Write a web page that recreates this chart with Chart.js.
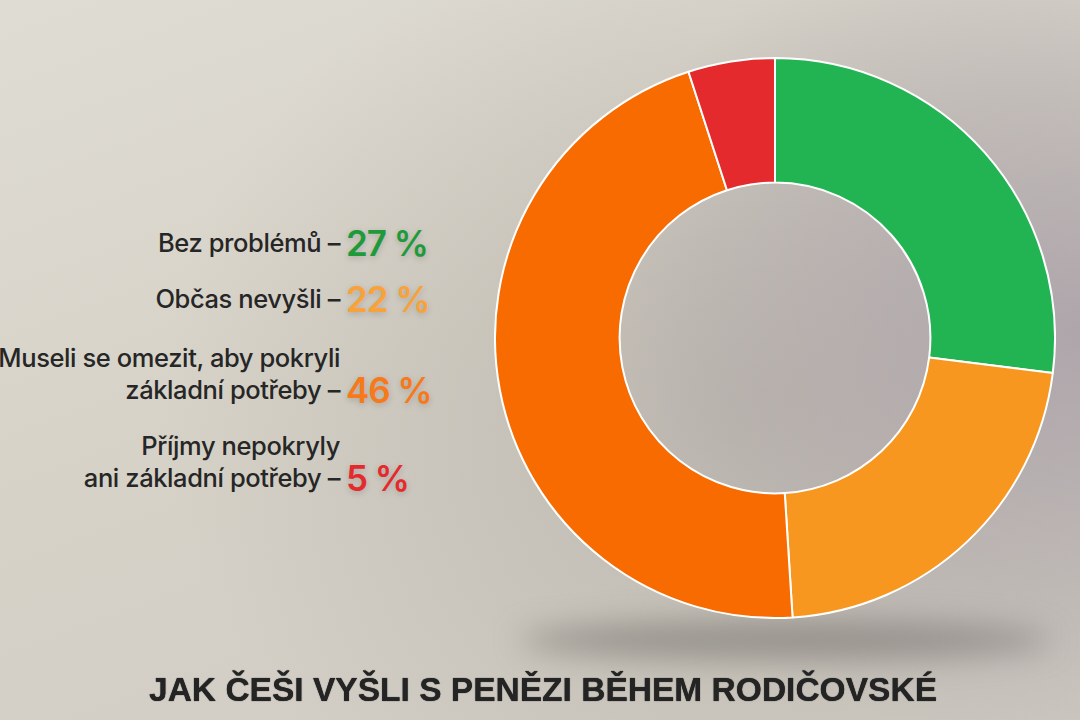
<!DOCTYPE html>
<html lang="cs">
<head>
<meta charset="utf-8">
<title>Jak Češi vyšli s penězi během rodičovské</title>
<script src="https://cdn.jsdelivr.net/npm/chart.js@4"></script>
<style>
  html, body { margin: 0; padding: 0; }
  body {
    width: 1080px; height: 720px; overflow: hidden; position: relative;
    background:
      radial-gradient(ellipse 520px 420px at 1080px 330px, rgba(165,155,165,0.75), rgba(165,155,165,0) 100%),
      radial-gradient(ellipse 600px 500px at 760px 400px, rgba(170,164,155,0.55), rgba(170,164,155,0) 100%),
      linear-gradient(160deg, #dfdcd3 0%, #d6d2c8 45%, #cfcbc3 100%);
    font-family: Inter, "Noto Sans", sans-serif;
  }
  .shadow {
    position: absolute; left: 520px; top: 620px; width: 530px; height: 40px;
    background: rgba(120,116,112,0.6); border-radius: 50%; filter: blur(15px);
  }
  #wrap { position: absolute; left: 494px; top: 57px; width: 562px; height: 562px; }
  .lbl {
    position: absolute; right: 740px; text-align: right; color: #262626;
    font-size: 25.5px; font-weight: 500; letter-spacing: -0.4px; white-space: nowrap;
  }
  .pct {
    position: absolute; left: 346px; font-size: 35px; font-weight: 600; letter-spacing: -1px;
    line-height: 40px; white-space: nowrap; text-shadow: 0 2px 6px rgba(0,0,0,0.18);
  }
  #title {
    position: absolute; left: 149px; top: 671px; white-space: nowrap; color: #242424;
    font-family: "Liberation Sans", Arial, sans-serif;
    font-weight: 700; font-size: 33px; line-height: 38px; transform-origin: 0 0;
    text-shadow: 0 0 1px #111;
  }
</style>
</head>
<body>
<div class="shadow"></div>
<div id="wrap"><canvas id="donut"></canvas></div>
<div id="labels"></div>
<div id="title">JAK ČEŠI VYŠLI S PENĚZI BĚHEM RODIČOVSKÉ</div>
<script>
// data
const categories = ['Bez problémů', 'Občas nevyšli', 'Museli se omezit, aby pokryli základní potřeby', 'Příjmy nepokryly ani základní potřeby'];
const shares = [27, 22, 46, 5];
const sliceColors = ['#22b452', '#f7971f', '#f76b00', '#e52a2e'];
const textColors = ['#1f9a3a', '#f9a23a', '#f7791a', '#e52a2e'];
// label lines as printed on the left
const labelLines = [
  ['Bez problémů –'],
  ['Občas nevyšli –'],
  ['Museli se omezit, aby pokryli', 'základní potřeby –'],
  ['Příjmy nepokryly', 'ani základní potřeby –']
];
const lastLineY = [243, 299, 390, 478];

const labelsDiv = document.getElementById('labels');
labelLines.forEach(function(lines, i) {
  const n = lines.length;
  const lbl = document.createElement('div');
  lbl.className = 'lbl';
  lbl.style.lineHeight = '32px';
  lbl.style.top = (lastLineY[i] - 16 - (n - 1) * 32) + 'px';
  lbl.innerHTML = lines.join('<br>');
  labelsDiv.appendChild(lbl);
  const pct = document.createElement('div');
  pct.className = 'pct';
  pct.style.top = (lastLineY[i] - 20) + 'px';
  pct.style.color = textColors[i];
  pct.textContent = shares[i] + ' %';
  labelsDiv.appendChild(pct);
});

// fit the condensed title to the width in the picture
const title = document.getElementById('title');
const w = title.getBoundingClientRect().width;
title.style.transform = 'scaleX(' + (788 / w) + ')';

const ctx = document.getElementById('donut').getContext('2d');
new Chart(ctx, {
  type: 'doughnut',
  data: {
    labels: categories,
    datasets: [{
      data: shares,
      backgroundColor: sliceColors,
      borderColor: '#ffffff',
      borderWidth: 2
    }]
  },
  options: {
    responsive: true,
    maintainAspectRatio: false,
    animation: false,
    cutout: '55.5%',
    layout: { padding: 0 },
    plugins: {
      legend: { display: false },
      tooltip: { enabled: false }
    }
  }
});
</script>
</body>
</html>
